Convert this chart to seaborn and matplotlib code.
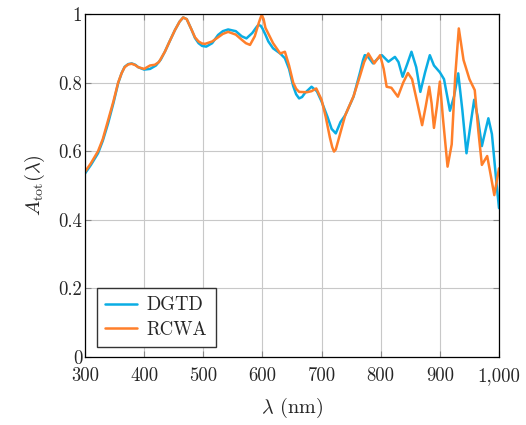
import numpy as np
import matplotlib
matplotlib.use("Agg")
import matplotlib.pyplot as plt
import seaborn as sns
import pandas as pd

color_dgtd = "#0AADE4"
color_rcwa = "#FF7F2A"

### DATA ###
lam_dgtd = [300, 310, 322, 330, 339, 348, 356, 362, 367, 373, 379, 385, 390, 400, 410, 420, 428,
            435, 443, 452, 460, 466, 472, 480, 486, 492, 498, 505, 515, 525, 533, 542, 555, 565,
            573, 583, 590, 593, 597, 600, 605, 610, 618, 630, 638, 645, 652, 657, 662, 667, 672,
            683, 692, 700, 710, 717, 724, 732, 740, 754, 765, 770, 773, 777, 780, 787, 795, 802,
            813, 824, 830, 837, 845, 852, 860, 867, 875, 883, 890, 900, 907, 917, 924, 931, 938,
            945, 952, 958, 964, 971, 977, 982, 988, 995, 1000]
a_dgtd = [0.535, 0.56, 0.594, 0.63, 0.681, 0.74, 0.798, 0.828, 0.846, 0.854, 0.856, 0.852,
          0.845, 0.838, 0.84, 0.85, 0.867, 0.89, 0.92, 0.953, 0.978, 0.99, 0.985, 0.955,
          0.93, 0.915, 0.907, 0.905, 0.915, 0.939, 0.95, 0.955, 0.95, 0.935, 0.929, 0.945,
          0.962, 0.968, 0.966, 0.958, 0.94, 0.92, 0.90, 0.885, 0.871, 0.84, 0.79, 0.766,
          0.754, 0.758, 0.77, 0.788, 0.775, 0.745, 0.70, 0.665, 0.652, 0.685, 0.705, 0.759,
          0.83, 0.865, 0.88, 0.878, 0.872, 0.856, 0.87, 0.88, 0.861, 0.875, 0.86, 0.817,
          0.855, 0.89, 0.845, 0.773, 0.83, 0.88, 0.85, 0.83, 0.81, 0.718, 0.76, 0.827, 0.72,
          0.594, 0.68, 0.75, 0.70, 0.615, 0.66, 0.696, 0.65, 0.52, 0.434]

lam_rcwa = [300, 310, 322, 330, 339, 348, 356, 362, 367, 373, 379, 385, 390, 400, 410, 418, 425,
            435, 443, 452, 460, 466, 472, 480, 486, 492, 498, 503, 515, 525, 533, 542, 555, 565,
            572, 579, 587, 594, 597, 599, 602, 605, 618, 630, 638, 645, 652, 657, 662, 675, 683,
            691, 700, 707, 714, 718, 721, 724, 728, 740, 754, 765, 772, 779, 789, 799, 805, 810,
            818, 829, 838, 846, 853, 862, 870, 876, 882, 886, 890, 895, 900, 905, 913, 920, 926,
            932, 940, 950, 959, 965, 971, 980, 986, 992, 1000]
a_rcwa = [0.54, 0.565, 0.60, 0.635, 0.69, 0.745, 0.80, 0.828, 0.845, 0.853, 0.855, 0.851,
          0.845, 0.84, 0.85, 0.852, 0.86, 0.89, 0.92, 0.953, 0.978, 0.99, 0.985, 0.955,
          0.932, 0.92, 0.914, 0.913, 0.92, 0.932, 0.942, 0.948, 0.94, 0.925, 0.915, 0.91,
          0.935, 0.975, 0.99, 0.997, 0.985, 0.96, 0.915, 0.885, 0.89, 0.85, 0.80, 0.782,
          0.773, 0.772, 0.775, 0.783, 0.75, 0.70, 0.64, 0.612, 0.599, 0.605, 0.63, 0.705,
          0.76, 0.82, 0.86, 0.885, 0.856, 0.88, 0.84, 0.788, 0.785, 0.759, 0.80, 0.828, 0.81,
          0.74, 0.676, 0.73, 0.788, 0.74, 0.668, 0.73, 0.803, 0.70, 0.555, 0.62, 0.82, 0.958,
          0.866, 0.81, 0.778, 0.66, 0.56, 0.586, 0.53, 0.472, 0.55]

xticks = [300, 400, 500, 600, 700, 800, 900, 1000]
xtick_labels = ["300", "400", "500", "600", "700", "800", "900", "1,000"]
yticks = [0, 0.2, 0.4, 0.6, 0.8, 1]
ytick_labels = ["0", "0.2", "0.4", "0.6", "0.8", "1"]

sns.set_style("whitegrid")
plt.rcParams["font.family"] = ["cmr10", "DejaVu Serif"]
plt.rcParams["mathtext.fontset"] = "cm"
plt.rcParams["axes.unicode_minus"] = False

df_dgtd = pd.DataFrame({"lam": lam_dgtd, "A": a_dgtd})
df_rcwa = pd.DataFrame({"lam": lam_rcwa, "A": a_rcwa})

fig, ax = plt.subplots(figsize=(5.26, 4.25), dpi=100)
fig.subplots_adjust(left=0.1616, right=0.9487, top=0.967, bottom=0.16)

sns.lineplot(data=df_dgtd, x="lam", y="A", ax=ax, color=color_dgtd, linewidth=1.8, label="DGTD")
sns.lineplot(data=df_rcwa, x="lam", y="A", ax=ax, color=color_rcwa, linewidth=1.8, label="RCWA")

ax.set_xlim(300, 1000)
ax.set_ylim(0, 1)
ax.set_xticks(xticks)
ax.set_xticklabels(xtick_labels)
ax.set_yticks(yticks)
ax.set_yticklabels(ytick_labels)
ax.tick_params(labelsize=13.5, direction="in", length=4, color="#888888",
               top=True, right=True, bottom=True, left=True, pad=2)
ax.tick_params(axis="x", pad=7)
ax.grid(True, color="#c8c8c8", linewidth=0.8)
for s in ax.spines.values():
    s.set_color("black")
    s.set_linewidth(0.9)

ax.set_xlabel(r"$\lambda$ (nm)", fontsize=14.5, labelpad=8)
ax.set_ylabel(r"$A_{\mathrm{tot}}(\lambda)$", fontsize=14.5, labelpad=8)

leg = ax.legend(loc="lower left", bbox_to_anchor=(0.029, 0.029), borderaxespad=0,
                fontsize=13.5, frameon=True, fancybox=False, framealpha=1,
                edgecolor="#333333", handlelength=1.7, handletextpad=0.5,
                borderpad=0.45, labelspacing=0.35)
leg.get_frame().set_linewidth(1.0)

plt.savefig("out.png", dpi=100)
